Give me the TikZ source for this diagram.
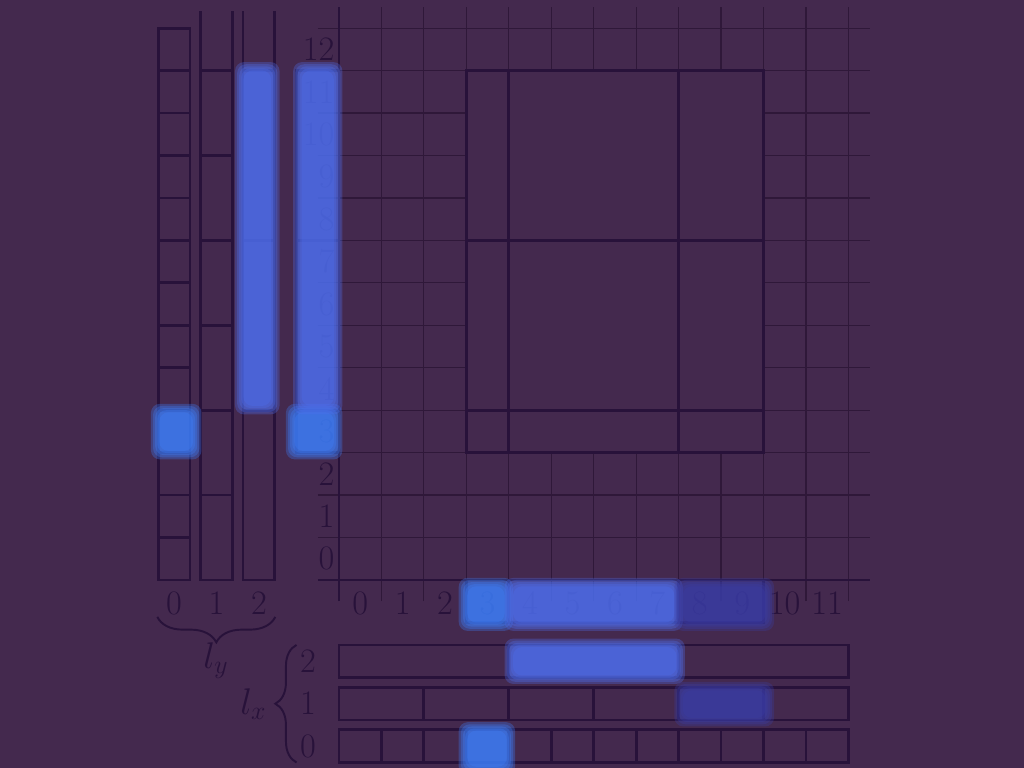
\documentclass[tikz,border=0pt]{standalone}
\usepackage{fontspec}
\usepackage{tikz}
\usetikzlibrary{decorations.pathreplacing}
\definecolor{bgpurple}{HTML}{44294E}
\definecolor{inkline}{HTML}{28123A}
\definecolor{fineline}{HTML}{2F1839}
\definecolor{hlbright}{HTML}{3D81FF}
\definecolor{hlmid}{HTML}{4E70F2}
\definecolor{hldark}{HTML}{3A3DA7}
% soft highlight: colour, lower left x,y, upper right x,y
\newcommand{\glow}[5]{%
  \foreach \e in {0.1,0.05,0,-0.05,-0.1}{%
    \fill[#1,fill opacity=.3,rounded corners=6pt] ({#2-(\e)},{#3-(\e)}) rectangle ({#4+(\e)},{#5+(\e)});}}

\begin{document}
\begin{tikzpicture}[
    fine/.style={fineline,line width=.8pt},
    boxline/.style={inkline,line width=1.9pt},
    blockline/.style={inkline,line width=2.1pt},
    lbl/.style={inkline,inner sep=0pt,font=\fontsize{23}{28}\selectfont},
    brc/.style={inkline,line width=1.3pt,decorate}]
    \fill[bgpurple] (-7.986,-4.429) rectangle (16.137,13.663);
    \useasboundingbox (-7.986,-4.429) rectangle (16.137,13.663);
    % grid
    \foreach \i in {1,...,12} \draw[fine] (\i,-0.5) -- (\i,13.5);
    \foreach \j in {1,...,13} \draw[fine] (-0.5,\j) -- (12.5,\j);
    \draw[boxline] (0,-0.5) -- (0,13.5);
    \draw[boxline] (-0.5,0) -- (12.5,0);
    % block and its projections
    \fill[bgpurple] (3,3) rectangle (10,12);
    \draw[blockline] (3,3) rectangle (10,12) (4,3) -- (4,12) (8,3) -- (8,12) (3,4) -- (10,4) (3,8) -- (10,8);
    \draw[boxline] (-1,3) rectangle (0,12) (-1,4) -- (0,4) (-1,8) -- (0,8);
    \draw[boxline] (3,-1) rectangle (10,0) (4,-1) -- (4,0) (8,-1) -- (8,0);
    % l_y columns
    \foreach \j in {0,...,12} \draw[boxline] (-4.26,\j) rectangle (-3.51,\j+1);
    \foreach \j in {0,2,...,10} \draw[boxline] (-3.26,\j) rectangle (-2.51,\j+2);
    \draw[boxline] (-3.26,13.4) -- (-3.26,12) -- (-2.51,12) -- (-2.51,13.4);
    \foreach \j in {0,4,8} \draw[boxline] (-2.26,\j) rectangle (-1.51,\j+4);
    \draw[boxline] (-2.26,13.4) -- (-2.26,12) (-1.51,12) -- (-1.51,13.4);
    % l_x rows
    \foreach \i in {0,...,11} \draw[boxline] (\i,-4.29) rectangle (\i+1,-3.53);
    \foreach \i in {0,2,...,10} \draw[boxline] (\i,-3.3) rectangle (\i+2,-2.54);
    \foreach \i in {0,4,8} \draw[boxline] (\i,-2.29) rectangle (\i+4,-1.53);
    % labels
    \foreach \i in {0,...,11} \node[lbl] (xl\i) at (\i+0.5,-0.55) {\i};
    \foreach \j in {0,...,12} \node[lbl,anchor=east] (yl\j) at (-0.1,\j+0.5) {\j};
    \foreach \k in {0,1,2} \node[lbl] (ly\k) at (-3.885+\k,-0.55) {\k};
    \foreach \k in {0,1,2} \node[lbl] (lx\k) at (-0.73,-3.91+\k) {\k};
    \draw[brc,decoration={brace,mirror,amplitude=0.6cm}] (-4.28,-0.87) -- (-1.5,-0.87);
    \node[lbl] (lyname) at (-2.9,-1.9) {$l_y$};
    \draw[brc,decoration={brace,amplitude=0.5cm}] (-1.0,-4.3) -- (-1.0,-1.53);
    \node[lbl] (lxname) at (-2.02,-2.92) {$l_x$};
    % highlights
    \glow{hlbright}{-4.33}{2.94}{-3.34}{4.05}
    \glow{hlmid}{-2.35}{4}{-1.5}{12.1}
    \glow{hlbright}{-1.15}{2.94}{-0.02}{4.05}
    \glow{hlmid}{-0.98}{4}{-0.02}{12.1}
    \glow{hlbright}{2.92}{-1.1}{4}{-0.05}
    \glow{hlmid}{4}{-1.1}{8}{-0.05}
    \glow{hldark}{8}{-1.1}{10.15}{-0.05}
    \glow{hlmid}{4}{-2.35}{8.05}{-1.48}
    \glow{hldark}{8}{-3.35}{10.15}{-2.5}
    \glow{hlbright}{2.92}{-4.5}{4.05}{-3.45}
\end{tikzpicture}
\end{document}
